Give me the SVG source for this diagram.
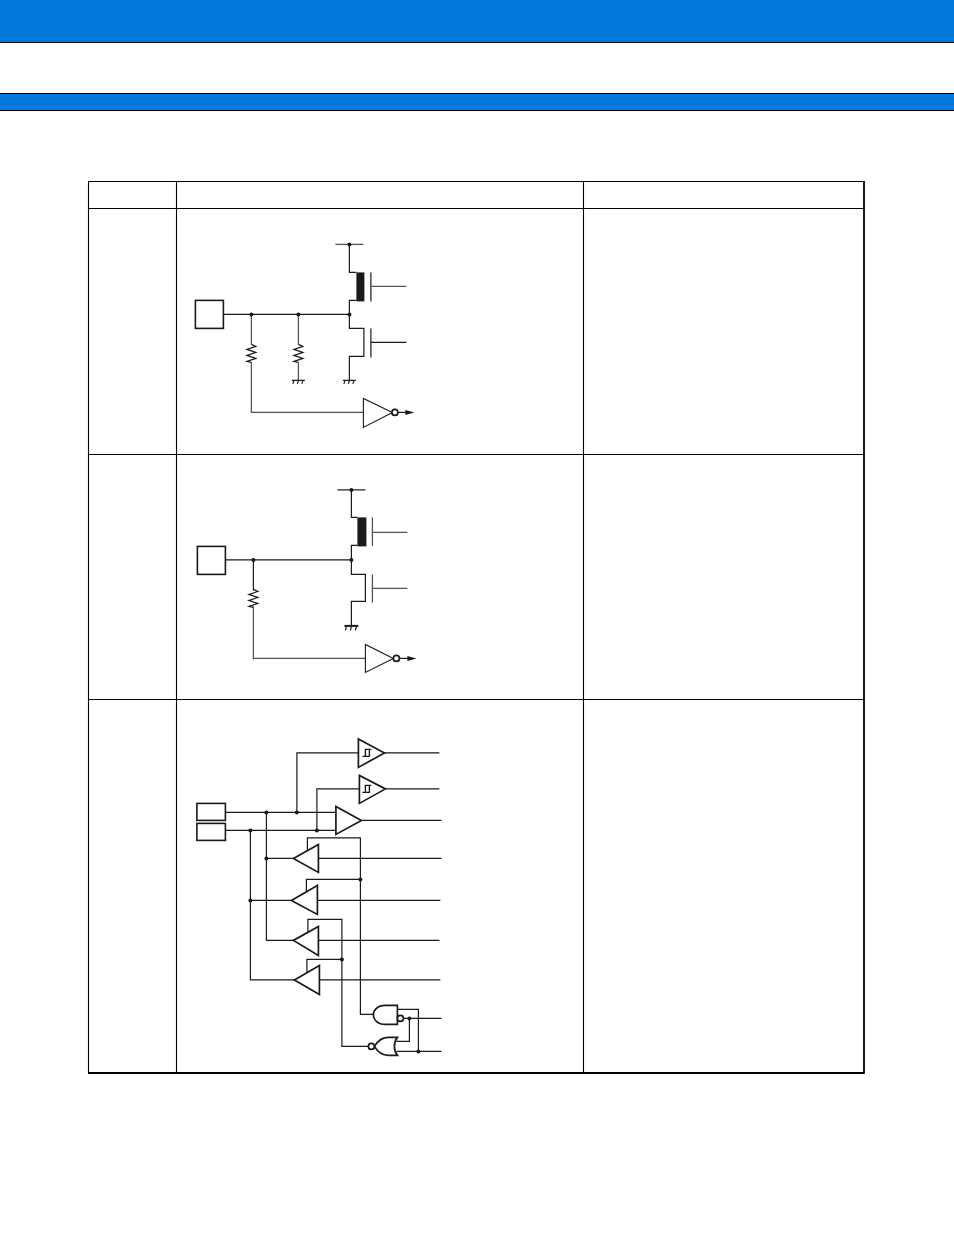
<svg xmlns="http://www.w3.org/2000/svg" width="954" height="1235" viewBox="0 0 954 1235">
<style>
.w{fill:none;stroke:#1a1a1a;stroke-width:1.2}
.g{fill:none;stroke:#555;stroke-width:1.3}
.t{fill:#fff;stroke:#1a1a1a;stroke-width:1.1}
.t2{fill:#fff;stroke:#1a1a1a;stroke-width:1.7}
.p{fill:#fff;stroke:#1a1a1a;stroke-width:1.6}
.tb{fill:none;stroke:#000;stroke-width:1.1}
.d{fill:#1a1a1a}
.bar{fill:#0078dc}
</style>
<defs>
<circle id="dot" r="2" class="d"/>
<path id="res" class="w" d="M0,0 L4.500,2 L-4.500,5 L4.500,8 L-4.500,11 L4.500,14 L-4.500,17 L0,18"/>
<path id="gnd" class="w" d="M-6.500,0 H6.500 M-4.500,0 L-5.500,3.500 M0,0 L-1,3.500 M4.500,0 L3.500,3.500"/>
<path id="sch" fill="none" stroke="#1a1a1a" stroke-width="1.4" d="M-5,3.500 H-2 V-3.500 H4 M-2.500,3.500 H2 V-3.500"/>
</defs>
<g id="header">
<rect class="bar" x="0" y="0" width="954" height="42"/>
<rect class="bar" x="0" y="93" width="954" height="17"/>
<path d="M0,42.500 H954 M0,93.500 H954 M0,110.500 H954" fill="none" stroke="#000" stroke-width="1.1"/>
</g>
<g id="table">
<path class="tb" d="M88.500,181.500 H864 M88.500,208.500 H864 M88.500,454.500 H864 M88.500,699.500 H864 M88.500,181.500 V1073 M176.500,181.500 V1073 M583.500,181.500 V1073"/>
<path d="M864,181 V1073.500 M88,1073 H864.500" fill="none" stroke="#000" stroke-width="1.8"/>
</g>
<g id="connectors" transform="translate(0.4,0.4)">
<path class="g" d="M335,244 H363"/>
<path class="w" d="M349,244 V272 H356 M356,300 H349 V328 H363.500 V356 H349 V380"/>
<path class="w" d="M223,314 H349"/>
<path class="w" d="M370.500,272 V301 M370.500,328 V357 M371,342 H406"/>
<path class="g" d="M371,286 H406"/>
<path class="g" d="M251,314 V344 M251,362 V412 H363 M298,314 V344 M298,362 V380"/>
<path class="w" d="M398,412 H407"/>
<path class="w" d="M337,489.500 H365"/>
<path class="w" d="M351,489.500 V517 H357 M357,545 H351 V574 H365 V601 H351 V625 M225,559.500 H351"/>
<path class="g" d="M372,517 V545.500 M372,574 V602 M372,532 H407 M372,588 H407 M253,659 V606"/>
<path class="w" d="M253,559.500 V590"/>
<path class="g" d="M253,658 H365"/>
<path class="w" d="M399,658 H408"/>
<path class="w" d="M225,812 H335.500 M225,830 H335.500 M296.500,812 V752.500 H358 M316.500,830 V788.500 H359 M384,752.500 H439 M385,788.500 H439 M361,820 H441"/>
<path class="w" d="M266,812 V940 H293 M266,858 H293 M250,830 V979.500 H294 M250,900 H291"/>
<path class="w" d="M318,858 H441 M317,900 H440 M318,940 H439 M319,979.500 H440"/>
<path class="w" d="M307,850 V837.500 H360 V1014 H373 M306,892 V879 H360 M307.500,932 V919 H341.500 V1046 H368 M306.500,972 V959 H341.500"/>
<path class="w" d="M397,1009 H418 V1051 M403,1018 H441 M409,1018 V1041 H396 M396,1051 H441"/>
</g>
<g id="circuit1" transform="translate(0.4,0.4)">
<rect id="pad1" class="p" x="195" y="300" width="28" height="28"/>
<rect x="356" y="272" width="8" height="29" fill="#1a1a1a"/>
<use href="#dot" x="349" y="244"/><use href="#dot" x="251" y="314"/><use href="#dot" x="298" y="314"/><use href="#dot" x="349" y="314"/>
<use href="#res" x="251" y="344"/><use href="#res" x="298" y="344"/>
<use href="#gnd" x="298" y="380"/><use href="#gnd" x="349" y="380"/>
<path class="t" d="M363,398 V427 L392,412 Z"/>
<circle class="t2" cx="394.500" cy="412" r="3"/>
<path class="d" d="M405,409.500 L414,412 L405,414.500 Z"/>
</g>
<g id="circuit2" transform="translate(0.4,0.4)">
<rect id="pad2" class="p" x="197" y="546" width="28" height="28"/>
<rect x="357" y="517" width="9" height="29" fill="#1a1a1a"/>
<use href="#dot" x="351" y="489.500"/><use href="#dot" x="253" y="559.500"/><use href="#dot" x="351" y="559.500"/>
<use href="#res" x="253" y="589"/>
<path d="M344,625.500 H358" stroke="#1a1a1a" stroke-width="2" fill="none"/>
<path class="w" d="M346,626 L345,630 M351,626 L350,630 M356,626 L355,630"/>
<path class="t" d="M365,644 V672 L393,658 Z"/>
<circle class="t2" cx="396" cy="658" r="3"/>
<path class="d" d="M407,655.500 L416,658 L407,660.500 Z"/>
</g>
<g id="circuit3" transform="translate(0.4,0.4)">
<rect id="pad3" class="p" x="196.500" y="803" width="28.500" height="17"/>
<rect id="pad4" class="p" x="196.500" y="823" width="28.500" height="17"/>
<use href="#dot" x="266" y="812"/><use href="#dot" x="296.500" y="812"/><use href="#dot" x="250" y="830"/><use href="#dot" x="316.500" y="830"/>
<use href="#dot" x="266" y="858"/><use href="#dot" x="250" y="900"/><use href="#dot" x="360" y="879"/><use href="#dot" x="341.500" y="959"/>
<path class="t2" d="M358,738.500 V767 L384,752.500 Z"/>
<use href="#sch" x="367" y="752.500"/>
<path class="t2" d="M359,775 V803 L385,788.500 Z"/>
<use href="#sch" x="367" y="788.500"/>
<path class="t2" d="M335.500,806 V834 L361,820 Z"/>
<path class="t2" d="M318,844 V872 L293,858 Z"/>
<path class="t2" d="M317,885 V914 L291,900 Z"/>
<path class="t2" d="M318,926 V955 L293,940 Z"/>
<path class="t2" d="M319,965 V994 L294,979.500 Z"/>
<path class="t2" d="M397,1005 H385 C377,1005 373,1010 373,1014.500 C373,1019 377,1024 385,1024 H397 Z"/>
<circle class="t2" cx="400" cy="1018" r="3"/>
<path class="t2" d="M397,1037 H388 C382,1037 377,1041 374,1046 C377,1051 382,1055 388,1055 H397 C393,1050 393,1042 397,1037 Z"/>
<circle class="t2" cx="371" cy="1046" r="3"/>
<use href="#dot" x="409" y="1018"/><use href="#dot" x="418" y="1051"/>
</g>
</svg>
